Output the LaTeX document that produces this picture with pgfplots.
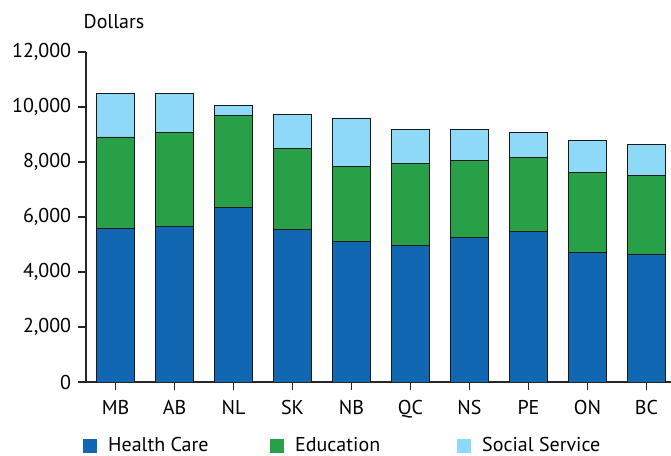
\documentclass[border=0pt]{standalone}
\usepackage{pgfplots}
\pgfplotsset{compat=1.18}
\usepackage{fontspec}
\setmainfont{PT Sans}
\definecolor{hc}{HTML}{1167B1}
\definecolor{ed}{HTML}{28A048}
\definecolor{ss}{HTML}{8ED9F8}
\begin{document}
\fontsize{20bp}{23bp}\selectfont
\begin{tikzpicture}
\path[use as bounding box] (0,0) rectangle (671bp,456bp);
\begin{axis}[
  at={(86bp,74bp)}, anchor=south west,
  scale only axis, width=585bp, height=330bp,
  xmin=-0.5, xmax=9.415, ymin=0, ymax=12000,
  axis x line=bottom, axis y line=left,
  axis line style={-, black!85, line width=1.2bp},
  tick style={black!85, line width=1.2bp},
  tick align=outside, major tick length=8bp,
  ybar stacked, bar width=38bp,
  xtick=data,
  xticklabels={MB,AB,NL,SK,NB,QC,NS,PE,ON,BC},
  xticklabel style={yshift=-3bp},
  ytick={0,2000,4000,6000,8000,10000,12000},
  scaled y ticks=false,
  yticklabel style={/pgf/number format/.cd, 1000 sep={,}, assume math mode=true},
  ticklabel style={font=\fontsize{20bp}{23bp}\selectfont},
  sq/.style={legend image code/.code={\fill[##1,draw=none] (0bp,-7bp) rectangle (14bp,7bp);}},
  legend style={at={(rel axis cs:0,0)}, anchor=west, xshift=-3bp, yshift=-64bp,
    draw=none, fill=none, inner sep=0pt, legend columns=3,
    font=\fontsize{20bp}{23bp}\selectfont,
    nodes={inner sep=0pt},
    /tikz/every odd column/.append style={column sep=11bp}},
  legend cell align=left,
]
\addplot[fill=hc, draw=black!90, line width=0.9bp, sq] coordinates {
(0,5580) (1,5650) (2,6340) (3,5530) (4,5100) (5,4980) (6,5270) (7,5480) (8,4700) (9,4630)};
\addlegendentry{\makebox[162bp][l]{Health Care}}
\addplot[fill=ed, draw=black!90, line width=0.9bp, sq] coordinates {
(0,3330) (1,3440) (2,3360) (3,2970) (4,2720) (5,2960) (6,2790) (7,2680) (8,2920) (9,2870)};
\addlegendentry{\makebox[162bp][l]{Education}}
\addplot[fill=ss, draw=black!90, line width=0.9bp, sq] coordinates {
(0,1590) (1,1390) (2,350) (3,1220) (4,1780) (5,1250) (6,1120) (7,930) (8,1180) (9,1140)};
\addlegendentry{Social Service}
\end{axis}
\node[anchor=base] at (114bp,427bp) {Dollars};
\end{tikzpicture}
\end{document}
